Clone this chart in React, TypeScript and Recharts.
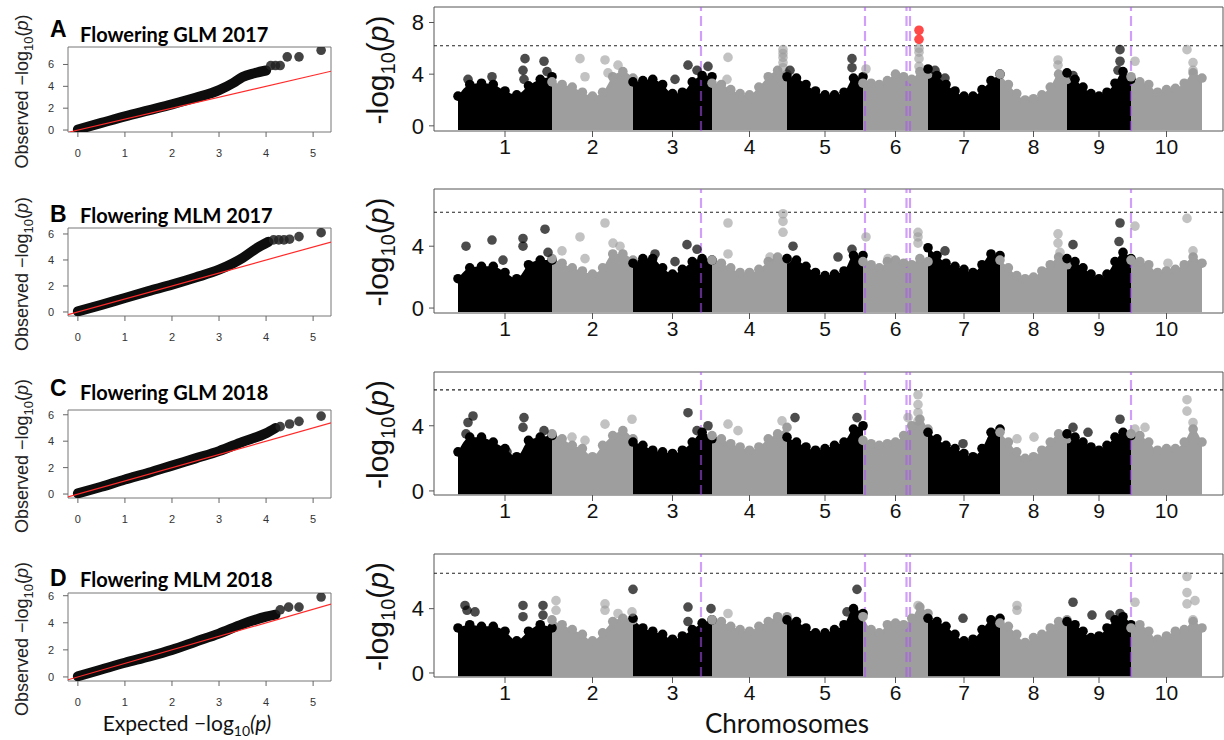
import React from 'react';
import { ComposedChart, Area, Line, Scatter, XAxis, YAxis, ReferenceLine, ReferenceArea } from 'recharts';

// chromosome layout (relative widths)
const chromosomes = ['1', '2', '3', '4', '5', '6', '7', '8', '9', '10'];
const chrSpan = [94, 81, 79, 75, 76, 65, 72, 67, 64, 71];
const chrStart = chrSpan.map((_, i) => chrSpan.slice(0, i).reduce((a, b) => a + b, 0));
const chrMid = chrStart.map((s, i) => s + chrSpan[i] / 2);
const genomeEnd = chrSpan.reduce((a, b) => a + b, 0);

const threshold = 6.2;
const candidateLoci = [243, 407, 448.5, 452, 673];

// upper envelope of the dense SNP cloud, 9 evenly spaced values per chromosome
const envA = [
  [2.3, 3.2, 3.3, 3.2, 2.7, 2.4, 3.1, 3.6, 3.8],
  [3.4, 3.2, 3.0, 2.6, 2.3, 2.6, 3.8, 4.2, 3.7],
  [3.4, 3.5, 3.6, 3.2, 2.5, 2.6, 3.4, 3.9, 3.8],
  [3.3, 3.2, 2.8, 2.5, 2.4, 3.0, 3.8, 4.3, 4.0],
  [3.8, 3.7, 3.2, 2.7, 2.4, 2.4, 2.6, 3.7, 3.8],
  [3.3, 3.3, 3.2, 3.5, 4.0, 3.8, 3.6, 4.2, 4.0],
  [4.4, 3.9, 3.2, 2.7, 2.3, 2.3, 2.8, 3.5, 4.0],
  [4.0, 3.2, 2.5, 2.0, 2.1, 2.4, 3.0, 4.0, 3.6],
  [4.1, 3.6, 3.0, 2.5, 2.3, 2.6, 3.3, 4.2, 3.6],
  [3.8, 3.4, 3.2, 2.6, 2.8, 2.9, 3.3, 4.1, 3.7],
];
const envB = [
  [1.9, 2.6, 2.7, 2.7, 2.3, 1.9, 2.8, 3.1, 3.1],
  [3.2, 2.9, 2.6, 2.4, 2.2, 2.6, 3.5, 3.5, 3.1],
  [2.9, 3.2, 3.2, 2.6, 2.2, 2.5, 3.0, 3.2, 3.1],
  [3.1, 2.9, 2.6, 2.3, 2.3, 2.5, 3.0, 3.3, 3.2],
  [3.2, 3.1, 2.7, 2.3, 2.1, 2.2, 2.4, 3.4, 3.4],
  [3.0, 2.8, 2.6, 3.0, 3.1, 2.9, 2.8, 3.2, 3.0],
  [3.9, 3.4, 2.9, 2.7, 2.5, 2.3, 2.8, 3.5, 3.4],
  [3.1, 2.6, 2.1, 1.9, 2.0, 2.4, 2.8, 3.3, 2.8],
  [3.2, 3.0, 2.6, 2.2, 1.9, 2.2, 3.0, 3.6, 3.2],
  [3.1, 3.0, 2.8, 2.3, 2.4, 2.5, 2.8, 3.3, 2.9],
];
const envC = [
  [2.4, 3.3, 3.3, 3.0, 2.6, 2.1, 3.1, 3.3, 3.4],
  [3.5, 3.2, 2.8, 2.6, 2.1, 2.8, 3.4, 3.7, 3.2],
  [3.0, 2.8, 2.5, 2.4, 2.3, 2.5, 3.0, 3.6, 3.2],
  [3.4, 3.2, 2.9, 2.7, 2.5, 2.7, 3.2, 3.5, 3.9],
  [3.3, 3.0, 2.7, 2.5, 2.6, 2.8, 3.0, 3.8, 4.0],
  [3.1, 2.9, 2.8, 2.9, 3.0, 3.4, 4.0, 4.4, 3.8],
  [3.6, 3.2, 2.8, 2.6, 2.3, 2.1, 2.6, 3.6, 3.8],
  [3.6, 3.0, 2.4, 2.0, 2.1, 2.5, 3.0, 3.5, 3.2],
  [3.5, 3.3, 3.0, 2.7, 2.5, 2.8, 3.3, 3.6, 3.4],
  [3.5, 3.4, 3.0, 2.5, 2.6, 2.6, 3.0, 3.8, 3.0],
];
const envD = [
  [2.8, 3.0, 2.9, 2.9, 2.6, 2.0, 2.6, 3.0, 2.8],
  [3.3, 3.0, 2.7, 2.4, 2.0, 2.5, 3.2, 3.4, 3.3],
  [3.4, 2.8, 2.6, 2.4, 2.1, 2.3, 2.7, 3.1, 3.3],
  [3.3, 3.2, 2.9, 2.7, 2.6, 2.9, 3.2, 3.5, 3.5],
  [3.3, 3.2, 2.8, 2.5, 2.5, 2.7, 3.0, 4.0, 3.7],
  [3.5, 2.7, 2.5, 3.0, 3.1, 3.0, 3.4, 4.1, 3.7],
  [3.4, 3.2, 2.9, 2.4, 2.0, 2.1, 2.7, 3.3, 3.4],
  [3.1, 2.9, 2.4, 1.9, 2.2, 2.4, 2.8, 3.2, 3.3],
  [3.2, 3.0, 2.6, 2.2, 2.3, 2.8, 3.3, 3.5, 3.0],
  [2.8, 3.0, 2.6, 2.1, 2.3, 2.6, 2.7, 3.2, 2.8],
];

// isolated SNPs standing above the cloud: [genome position, -log10 p]
const hitsA = [[10, 3.6], [34, 3.8], [67, 5.2], [65, 4.3], [66, 3.6], [86, 5.0], [89, 4.2], [122, 5.2], [147, 5.1], [127, 3.8], [150, 4.1], [160, 4.7], [217, 3.6], [230, 4.7], [239, 4.3], [250, 4.6], [270, 5.3], [269, 3.6], [325, 4.5], [325, 4.9], [325, 5.3], [325, 5.6], [325, 5.9], [332, 4.3], [394, 5.2], [394, 4.5], [408, 4.4], [461, 4.6], [461, 5.2], [461, 5.7], [461, 6.0], [477, 4.3], [487, 3.7], [600, 5.1], [600, 4.7], [662, 5.9], [662, 5.0], [660, 4.3], [615, 3.9], [677, 5.0], [729, 5.9], [735, 4.9], [735, 4.3]];
const sigA = [[461, 7.4], [461, 6.7]];
const hitsB = [[8, 4.0], [34, 4.4], [45, 3.1], [65, 4.5], [65, 4.0], [87, 5.1], [90, 3.6], [122, 4.6], [147, 5.5], [127, 3.2], [104, 3.7], [155, 4.2], [162, 4.0], [217, 3.0], [229, 4.1], [239, 3.8], [197, 3.5], [270, 5.5], [270, 3.5], [325, 6.1], [325, 5.6], [325, 4.9], [312, 3.3], [335, 4.0], [380, 3.3], [394, 3.8], [408, 4.6], [460, 4.9], [460, 4.6], [460, 4.2], [430, 3.2], [487, 3.7], [600, 4.8], [600, 4.2], [602, 3.6], [662, 5.5], [661, 4.3], [615, 4.1], [677, 5.3], [729, 5.8], [735, 3.7], [710, 2.9]];
const hitsC = [[15, 4.6], [10, 4.2], [8, 3.5], [66, 4.5], [65, 3.9], [86, 3.7], [49, 2.4], [174, 4.4], [147, 4.1], [114, 3.3], [127, 3.1], [230, 4.8], [239, 3.7], [250, 4.0], [270, 4.1], [280, 3.7], [324, 4.3], [337, 4.5], [399, 4.5], [460, 5.9], [460, 5.3], [460, 4.8], [460, 4.3], [450, 4.5], [505, 2.9], [576, 3.3], [559, 3.2], [662, 4.4], [630, 3.6], [615, 3.9], [729, 5.6], [729, 4.9], [735, 4.2], [687, 3.9], [677, 3.8]];
const hitsD = [[7, 4.2], [9, 3.9], [17, 3.8], [65, 4.2], [65, 3.5], [85, 4.2], [85, 3.6], [98, 4.5], [98, 3.9], [147, 4.3], [147, 3.9], [175, 5.2], [174, 3.8], [160, 3.7], [230, 4.1], [230, 3.2], [253, 4.0], [270, 3.7], [399, 5.2], [389, 3.8], [460, 4.2], [505, 3.4], [559, 4.2], [559, 3.9], [615, 4.4], [634, 3.6], [652, 3.6], [662, 3.7], [677, 4.4], [729, 6.0], [729, 5.0], [729, 4.3], [737, 4.5], [735, 3.3]];

// QQ plots: [expected, observed]
const qqBandA = [[0, 0.05], [0.5, 0.65], [1, 1.25], [1.5, 1.8], [2, 2.35], [2.5, 2.95], [3, 3.65], [3.3, 4.3], [3.5, 4.85], [3.75, 5.2], [4.0, 5.45]];
const qqTailA = [[4.1, 5.9], [4.2, 5.9], [4.3, 5.9], [4.45, 6.7], [4.7, 6.7], [5.17, 7.3]];
const qqBandB = [[0, 0.05], [0.5, 0.55], [1, 1.08], [1.5, 1.6], [2, 2.1], [2.5, 2.65], [3, 3.25], [3.3, 3.75], [3.5, 4.15], [3.8, 4.9], [4.05, 5.4]];
const qqTailB = [[4.16, 5.55], [4.27, 5.55], [4.38, 5.55], [4.5, 5.6], [4.7, 5.8], [5.17, 6.1]];
const qqBandC = [[0, 0.05], [0.5, 0.55], [1, 1.1], [1.5, 1.6], [2, 2.15], [2.5, 2.7], [3, 3.25], [3.5, 3.95], [4, 4.6], [4.2, 5.0]];
const qqTailC = [[4.3, 5.1], [4.5, 5.3], [4.7, 5.5], [5.17, 5.9]];
const qqBandD = [[0, 0.05], [0.5, 0.55], [1, 1.05], [1.5, 1.5], [2, 2.0], [2.5, 2.6], [3, 3.2], [3.5, 3.9], [4, 4.45], [4.2, 4.6]];
const qqTailD = [[4.3, 4.96], [4.48, 5.16], [4.7, 5.16], [5.17, 5.9]];

const panelLetters = ['A', 'B', 'C', 'D'];
const panelTitles = ['Flowering GLM 2017', 'Flowering MLM 2017', 'Flowering GLM 2018', 'Flowering MLM 2018'];

const sans = "'Liberation Sans', Arial, sans-serif";
const cal = "Lato, 'Open Sans', sans-serif";

const chrOf = (x: number) => {
  let c = 0;
  chrStart.forEach((s, i) => { if (x >= s) c = i; });
  return c;
};

const makeDot = (r: number, dark: string, light: string, darkOp: number, lightOp: number) => (p: any) => {
  if (p.cx == null || p.cy == null) return <g />;
  const isDark = p.payload && p.payload.dark;
  return <circle cx={p.cx} cy={p.cy} r={r} fill={isDark ? dark : light} fillOpacity={isDark ? darkOp : lightOp} />;
};

const Manhattan = ({ env, hits, sig, yDomain, yTicks, boxTop, boxBottom }: any) => {
  const mt = 2;
  const xh = 40;
  const boxH = boxBottom - boxTop;
  const xDomain = [-24, genomeEnd + 21];
  const base = yDomain[0] * 0.8;
  const rows: any[] = [];
  const tops: any[] = [];
  env.forEach((vals: number[], c: number) => {
    vals.forEach((v, i) => {
      const x = chrStart[c] + (chrSpan[c] * i) / (vals.length - 1);
      rows.push({ x, odd: c % 2 === 0 ? v : null, even: c % 2 === 1 ? v : null });
      tops.push({ x, y: v, dark: c % 2 === 0 });
    });
  });
  const hitPts = hits.map(([x, y]: number[]) => ({ x, y, dark: chrOf(x) % 2 === 0 }));
  const sigPts = (sig || []).map(([x, y]: number[]) => ({ x, y }));
  return (
    <div style={{ position: 'absolute', left: 340, top: boxTop - mt }}>
      <ComposedChart width={884} height={mt + boxH + xh} data={rows} margin={{ top: mt, right: 1, bottom: 0, left: 0 }}>
        <XAxis
          type="number" dataKey="x" domain={xDomain} ticks={chrMid} allowDataOverflow interval={0}
          height={xh} tickSize={6} tickMargin={2} axisLine={false} tickLine={{ stroke: '#555' }}
          tick={{ fontSize: 21, fill: '#111', fontFamily: sans }}
          tickFormatter={(v: number) => chromosomes[chrMid.findIndex((m) => Math.abs(m - v) < 0.01)]}
        />
        <YAxis
          type="number" domain={yDomain} ticks={yTicks} allowDataOverflow interval={0}
          width={94} tickSize={5} tickMargin={5} axisLine={false} tickLine={{ stroke: '#555' }}
          tick={{ fontSize: 22, fill: '#111', fontFamily: sans }}
        />
        <Area type="monotone" dataKey="odd" stroke="none" fill="#000" fillOpacity={1} baseValue={base} isAnimationActive={false} />
        <Area type="monotone" dataKey="even" stroke="none" fill="#9e9e9e" fillOpacity={1} baseValue={base} isAnimationActive={false} />
        <Scatter data={tops} dataKey="y" shape={makeDot(4.8, '#000', '#9e9e9e', 1, 1)} isAnimationActive={false} />
        <Scatter data={hitPts} dataKey="y" shape={makeDot(4.8, '#000', '#999', 0.7, 0.6)} isAnimationActive={false} />
        {sigPts.length > 0 && (
          <Scatter data={sigPts} dataKey="y" shape={(p: any) => <circle cx={p.cx} cy={p.cy} r={4.8} fill="#ff1a1a" fillOpacity={0.8} />} isAnimationActive={false} />
        )}
        <ReferenceLine y={threshold} stroke="#222" strokeWidth={1.1} strokeDasharray="3 3" />
        {candidateLoci.map((x) => (
          <ReferenceLine key={x} x={x} stroke="rgb(170,80,240)" strokeOpacity={0.55} strokeWidth={2.2} strokeDasharray="10 5" />
        ))}
        <ReferenceArea x1={xDomain[0]} x2={xDomain[1]} y1={yDomain[0]} y2={yDomain[1]} fill="none" fillOpacity={0} stroke="#555" strokeWidth={1} />
      </ComposedChart>
    </div>
  );
};

const QQ = ({ band, tail, yDomain, boxTop, boxBottom }: any) => {
  const mt = 4;
  const xh = 30;
  const boxH = boxBottom - boxTop;
  const xDomain = [-0.21, 5.38];
  const lo = Math.max(xDomain[0], yDomain[0]);
  const hi = Math.min(xDomain[1], yDomain[1]);
  const diag = [{ x: lo, y: lo }, { x: hi, y: hi }];
  const bandPts = band.map(([x, y]: number[]) => ({ x, y }));
  const tailPts = tail.map(([x, y]: number[]) => ({ x, y }));
  return (
    <div style={{ position: 'absolute', left: 0, top: boxTop - mt }}>
      <ComposedChart width={334} height={mt + boxH + xh} margin={{ top: mt, right: 3, bottom: 0, left: 0 }}>
        <XAxis
          type="number" dataKey="x" domain={xDomain} ticks={[0, 1, 2, 3, 4, 5]} allowDataOverflow interval={0}
          height={xh} tickSize={5} tickMargin={12} axisLine={false} tickLine={{ stroke: '#666' }}
          tick={{ fontSize: 11, fill: '#333', fontFamily: sans }}
        />
        <YAxis
          type="number" domain={yDomain} ticks={[0, 2, 4, 6]} allowDataOverflow interval={0}
          width={68} tickSize={5} tickMargin={9} axisLine={false} tickLine={{ stroke: '#666' }}
          tick={{ fontSize: 11, fill: '#333', fontFamily: sans }}
        />
        <Line data={bandPts} dataKey="y" type="monotone" stroke="#0d0d0d" strokeWidth={10} strokeLinecap="round" dot={false} isAnimationActive={false} />
        <Scatter data={tailPts} dataKey="y" shape={(p: any) => <circle cx={p.cx} cy={p.cy} r={4.8} fill="#222" fillOpacity={0.85} />} isAnimationActive={false} />
        <Line data={diag} dataKey="y" type="linear" stroke="#ff2a2a" strokeWidth={1.2} dot={false} isAnimationActive={false} />
        <ReferenceArea x1={xDomain[0]} x2={xDomain[1]} y1={yDomain[0]} y2={yDomain[1]} fill="none" fillOpacity={0} stroke="#777" strokeWidth={1} />
      </ComposedChart>
    </div>
  );
};

const qqPanels = [
  { band: qqBandA, tail: qqTailA, yDomain: [-0.18, 7.6], boxTop: 47, boxBottom: 132, letterY: 37, titleY: 42 },
  { band: qqBandB, tail: qqTailB, yDomain: [-0.31, 6.46], boxTop: 228, boxBottom: 316, letterY: 222, titleY: 223 },
  { band: qqBandC, tail: qqTailC, yDomain: [-0.3, 6.36], boxTop: 410, boxBottom: 498, letterY: 396, titleY: 400 },
  { band: qqBandD, tail: qqTailD, yDomain: [-0.3, 6.2], boxTop: 593, boxBottom: 681, letterY: 586, titleY: 587 },
];

const manPanels = [
  { env: envA, hits: hitsA, sig: sigA, yDomain: [-0.4, 9.2], yTicks: [0, 4, 8], boxTop: 7, boxBottom: 131 },
  { env: envB, hits: hitsB, sig: null, yDomain: [-0.32, 7.7], yTicks: [0, 4], boxTop: 189, boxBottom: 313 },
  { env: envC, hits: hitsC, sig: null, yDomain: [-0.25, 7.3], yTicks: [0, 4], boxTop: 372, boxBottom: 495 },
  { env: envD, hits: hitsD, sig: null, yDomain: [-0.25, 7.4], yTicks: [0, 4], boxTop: 554, boxBottom: 677 },
];

export default function App() {
  return (
    <div style={{ position: 'absolute', left: 0, top: 0, width: 1224, height: 740, background: '#fff', overflow: 'hidden' }}>
      {qqPanels.map((p, i) => (
        <QQ key={'qq' + i} {...p} />
      ))}
      {manPanels.map((p, i) => (
        <Manhattan key={'man' + i} {...p} />
      ))}
      <svg width={1224} height={740} style={{ position: 'absolute', left: 0, top: 0, pointerEvents: 'none' }}>
        {qqPanels.map((p, i) => {
          const cy = (p.boxTop + p.boxBottom) / 2 + 2;
          return (
            <g key={'lab' + i}>
              <text x={50} y={p.letterY} fontFamily={sans} fontWeight="bold" fontSize={23} fill="#000">{panelLetters[i]}</text>
              <text x={80} y={p.titleY} fontFamily={cal} fontWeight="bold" fontSize={20} fill="#000">{panelTitles[i]}</text>
              <text transform={`translate(28, ${cy}) rotate(-90)`} textAnchor="middle" fontFamily={sans} fontSize={18} fill="#222">
                Observed −log<tspan fontSize={13} dy={5}>10</tspan><tspan dy={-5}>(</tspan><tspan fontStyle="italic">p</tspan>)
              </text>
            </g>
          );
        })}
        {manPanels.map((p, i) => {
          const cy = (p.boxTop + p.boxBottom) / 2 + 1;
          return (
            <text key={'ml' + i} transform={`translate(388, ${cy}) rotate(-90)`} textAnchor="middle" fontFamily={sans} fontSize={30} fill="#111">
              -log<tspan fontSize={20} dy={7}>10</tspan><tspan dy={-7}>(</tspan><tspan fontStyle="italic">p</tspan>)
            </text>
          );
        })}
        <text x={187} y={731} textAnchor="middle" fontFamily={cal} fontSize={21} fill="#111">
          Expected −log<tspan fontSize={14} dy={5}>10</tspan><tspan dy={-5} fontStyle="italic">(p)</tspan>
        </text>
        <text x={787} y={733} textAnchor="middle" fontFamily={cal} fontSize={26} fill="#111">Chromosomes</text>
      </svg>
    </div>
  );
}
